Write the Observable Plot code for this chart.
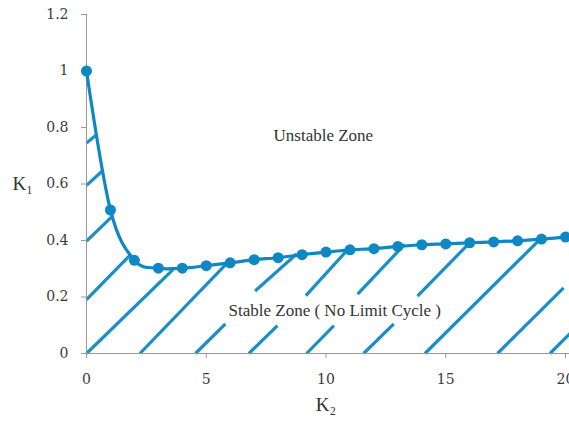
<!DOCTYPE html>
<html>
<head>
<meta charset="utf-8">
<script src="https://cdn.jsdelivr.net/npm/d3@7"></script>
<script src="https://cdn.jsdelivr.net/npm/@observablehq/plot@0.6"></script>
<style>
  html, body { margin: 0; padding: 0; background: #fff; }
</style>
</head>
<body>
<div id="chart"></div>
<script>
// Stability boundary: K1 as a function of K2
const k2 = [0, 1, 2, 3, 4, 5, 6, 7, 8, 9, 10, 11, 12, 13, 14, 15, 16, 17, 18, 19, 20];
const k1 = [1.0, 0.508, 0.33, 0.302, 0.302, 0.311, 0.321, 0.332, 0.339, 0.35, 0.359,
            0.367, 0.371, 0.379, 0.385, 0.388, 0.392, 0.395, 0.399, 0.405, 0.412];

// Axis ticks
const xTicks = [0, 5, 10, 15, 20];
const yTicks = [0, 0.2, 0.4, 0.6, 0.8, 1, 1.2];

// Hatch strokes shading the stable region (start / end in K2, K1 units)
const hatchX1 = [0, 0, 0, 0, 0, 2.23, 4.55, 7.04, 6.78, 9.16, 9.19, 11.32, 11.57, 13.82, 14.13, 17.16, 19.35];
const hatchY1 = [0.745, 0.595, 0.398, 0.191, 0, 0, 0, 0.221, 0, 0.205, 0, 0.21, 0, 0.203, 0, 0, 0];
const hatchX2 = [0.43, 0.65, 1.04, 1.81, 3.61, 5.89, 5.8, 8.77, 7.97, 10.9, 10.33, 13.28, 12.83, 15.93, 18.91, 19.92, 20.42];
const hatchY2 = [0.775, 0.645, 0.483, 0.347, 0.297, 0.322, 0.105, 0.352, 0.099, 0.367, 0.099, 0.386, 0.105, 0.386, 0.402, 0.232, 0.09];

// Region labels
const zoneLabels = ["Unstable Zone", "Stable Zone ( No Limit Cycle )"];
const zoneX = [7.81, 5.93];
const zoneY = [0.772, 0.152];

const points = k2.map((x, i) => ({x, y: k1[i]}));
const hatch = hatchX1.map((x1, i) => ({x1, y1: hatchY1[i], x2: hatchX2[i], y2: hatchY2[i]}));
const zones = zoneLabels.map((text, i) => ({text, x: zoneX[i], y: zoneY[i]}));

const blue = "#0f87c3";
const hatchBlue = "#1a8ec6";
const serif = "Liberation Serif, Times New Roman, serif";
const tickFont = "DejaVu Serif, serif";

const chart = Plot.plot({
  width: 569,
  height: 423,
  marginLeft: 86,
  marginRight: 4,
  marginTop: 14,
  marginBottom: 70,
  style: {fontFamily: tickFont, fontSize: "14px", color: "#3a3a3a", background: "#fff"},
  x: {domain: [0, 20]},
  y: {domain: [0, 1.2]},
  marks: [
    Plot.link(hatch, {x1: "x1", y1: "y1", x2: "x2", y2: "y2", stroke: hatchBlue, strokeWidth: 3.2, strokeLinecap: "butt"}),
    Plot.ruleX([0], {y1: 0, y2: 1.2, stroke: "#9a9a9a", strokeWidth: 1}),
    Plot.ruleY([0], {x1: 0, x2: 20.3, stroke: "#9a9a9a", strokeWidth: 1}),
    Plot.axisX({ticks: xTicks, tickSize: 5, tickPadding: 16, label: null, stroke: "#9a9a9a", fill: "#3a3a3a",
      fontFamily: tickFont, fontSize: 14, tickFormat: d => String(d)}),
    Plot.axisY({ticks: yTicks, tickSize: 5, tickPadding: 13, label: null, stroke: "#9a9a9a", fill: "#3a3a3a",
      fontFamily: tickFont, fontSize: 14, tickFormat: d => String(d)}),
    Plot.line(points, {x: "x", y: "y", curve: "cardinal", stroke: blue, strokeWidth: 3.2}),
    Plot.dot(points, {x: "x", y: "y", r: 5.5, fill: blue, stroke: "none"}),
    Plot.text(zones, {x: "x", y: "y", text: "text", textAnchor: "start", fontFamily: serif, fontSize: 17, fill: "#333"}),
    Plot.text(["K\u2081"], {frameAnchor: "left", dx: -74, textAnchor: "start", fontFamily: serif, fontSize: 19, fill: "#333"}),
    Plot.text(["K\u2082"], {frameAnchor: "bottom", dy: 57, fontFamily: serif, fontSize: 19, fill: "#333"})
  ]
});

document.getElementById("chart").append(chart);
</script>
</body>
</html>
